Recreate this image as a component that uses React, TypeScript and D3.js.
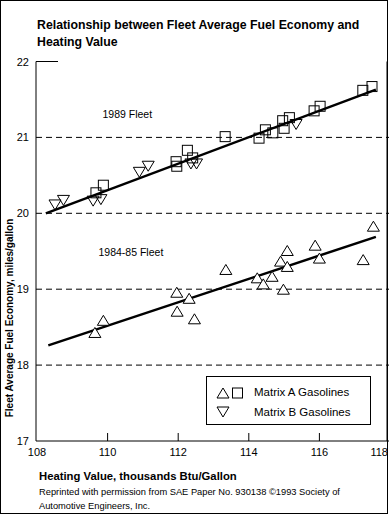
import React from 'react';
import * as d3 from 'd3';

// heating value (thousands Btu/gal) vs fleet average fuel economy (mpg)
const fleet89MatrixA = [
  [109.88, 20.37], [109.67, 20.27], [111.94, 20.68], [111.96, 20.62],
  [112.26, 20.83], [112.41, 20.73], [113.33, 21.01], [114.29, 20.99],
  [114.47, 21.1], [114.68, 21.06], [114.96, 21.22], [115.0, 21.12],
  [115.15, 21.26], [115.85, 21.35], [116.02, 21.41], [117.23, 21.62],
  [117.49, 21.67],
];
const fleet89MatrixB = [
  [108.51, 20.11], [108.75, 20.17], [109.59, 20.16], [109.81, 20.18],
  [110.9, 20.54], [111.15, 20.62], [112.36, 20.65], [112.52, 20.65],
  [115.34, 21.17],
];
const fleet8485MatrixA = [
  [109.64, 18.43], [109.88, 18.59], [111.96, 18.96], [112.31, 18.88],
  [111.97, 18.71], [112.46, 18.61], [113.35, 19.26], [114.24, 19.15],
  [114.41, 19.07], [114.66, 19.17], [114.98, 19.0], [114.9, 19.37],
  [115.09, 19.51], [115.09, 19.3], [115.88, 19.58], [116.0, 19.41],
  [117.24, 19.39], [117.53, 19.83],
];
const fit89 = [[108.25, 20.0], [117.6, 21.63]];
const fit8485 = [[108.32, 18.26], [117.6, 19.69]];

const xTicks = [108, 110, 112, 114, 116, 118];
const yTicks = [17, 18, 19, 20, 21, 22];
const gridValues = [18, 19, 20, 21];

const W = 389;
const H = 515;
const font = '"Liberation Sans", Arial, Helvetica, sans-serif';

const x = d3.scaleLinear().domain([108, 118]).range([37, 390]);
const y = d3.scaleLinear().domain([17, 22]).range([441, 61.5]);
const line = d3.line<number[]>().x((d) => x(d[0])).y((d) => y(d[1]));

const triUp = (cx: number, cy: number) =>
  `M${cx - 6},${cy + 5}L${cx + 6},${cy + 5}L${cx},${cy - 5}Z`;
const triDown = (cx: number, cy: number) =>
  `M${cx - 6},${cy - 5}L${cx + 6},${cy - 5}L${cx},${cy + 5}Z`;

export default function App() {
  const left = 36;
  const bottom = y(17);
  return (
    <svg
      width={W}
      height={H}
      style={{ position: 'absolute', left: 0, top: 0, background: '#fff' }}
      fontFamily={font}
    >
      <rect x={0.5} y={0.5} width={W - 2} height={H - 2} fill="#fff" stroke="#000" />

      <text x={37} y={29} fontSize={12.3} fontWeight="bold">
        Relationship between Fleet Average Fuel Economy and
      </text>
      <text x={37} y={46} fontSize={12.3} fontWeight="bold">
        Heating Value
      </text>

      {/* grid */}
      {gridValues.map((v) => (
        <line key={v} x1={left} x2={W} y1={y(v)} y2={y(v)} stroke="#000" strokeDasharray="6,4" />
      ))}

      {/* axes */}
      <line x1={left} x2={left} y1={y(22)} y2={bottom} stroke="#000" />
      <line x1={left} x2={W} y1={bottom} y2={bottom} stroke="#000" />
      <line x1={left} x2={58} y1={y(22)} y2={y(22)} stroke="#000" />
      <line x1={W - 2} x2={W - 2} y1={y(22)} y2={bottom} stroke="#000" />
      {xTicks.slice(1, -1).map((t) => (
        <line key={t} x1={x(t)} x2={x(t)} y1={bottom} y2={bottom - 8} stroke="#000" />
      ))}
      {xTicks.map((t, i) => (
        <text
          key={t}
          x={i === xTicks.length - 1 ? W - 1 : x(t)}
          y={456}
          fontSize={11}
          textAnchor={i === xTicks.length - 1 ? 'end' : 'middle'}
        >
          {t}
        </text>
      ))}
      {yTicks.map((t) => (
        <text key={t} x={29} y={y(t) + 4} fontSize={11} textAnchor="end">
          {t}
        </text>
      ))}

      <text
        transform={`translate(12.5,318) rotate(-90)`}
        fontSize={10}
        fontWeight="bold"
        textAnchor="middle"
      >
        Fleet Average Fuel Economy, miles/gallon
      </text>
      <text x={39} y={480} fontSize={11.3} fontWeight="bold">
        Heating Value, thousands Btu/Gallon
      </text>
      <text x={39} y={494.5} fontSize={9.3}>
        Reprinted with permission from SAE Paper No. 930138 ©1993 Society of
      </text>
      <text x={39} y={508.5} fontSize={9.3}>
        Automotive Engineers, Inc.
      </text>

      <text x={102.5} y={118} fontSize={10.5}>1989 Fleet</text>
      <text x={98.5} y={256} fontSize={10.5}>1984-85 Fleet</text>

      {/* fit lines */}
      <path d={line(fit89) || ''} fill="none" stroke="#000" strokeWidth={2.5} />
      <path d={line(fit8485) || ''} fill="none" stroke="#000" strokeWidth={2.5} />

      {/* points */}
      {fleet89MatrixA.map((d, i) => (
        <rect
          key={'a' + i}
          x={x(d[0]) - 5}
          y={y(d[1]) - 5}
          width={10}
          height={10}
          fill="none"
          stroke="#000"
        />
      ))}
      {fleet89MatrixB.map((d, i) => (
        <path key={'b' + i} d={triDown(x(d[0]), y(d[1]))} fill="none" stroke="#000" />
      ))}
      {fleet8485MatrixA.map((d, i) => (
        <path key={'c' + i} d={triUp(x(d[0]), y(d[1]))} fill="#fff" stroke="#000" />
      ))}

      {/* legend */}
      <rect x={206.5} y={376.5} width={164} height={48} fill="#fff" stroke="#000" />
      <path d={triUp(223, 393)} fill="none" stroke="#000" />
      <rect x={232.5} y={388} width={10} height={10} fill="none" stroke="#000" />
      <path d={triDown(223, 412)} fill="none" stroke="#000" />
      <text x={254} y={396} fontSize={11.5}>Matrix A Gasolines</text>
      <text x={254} y={416} fontSize={11.5}>Matrix B Gasolines</text>
    </svg>
  );
}
